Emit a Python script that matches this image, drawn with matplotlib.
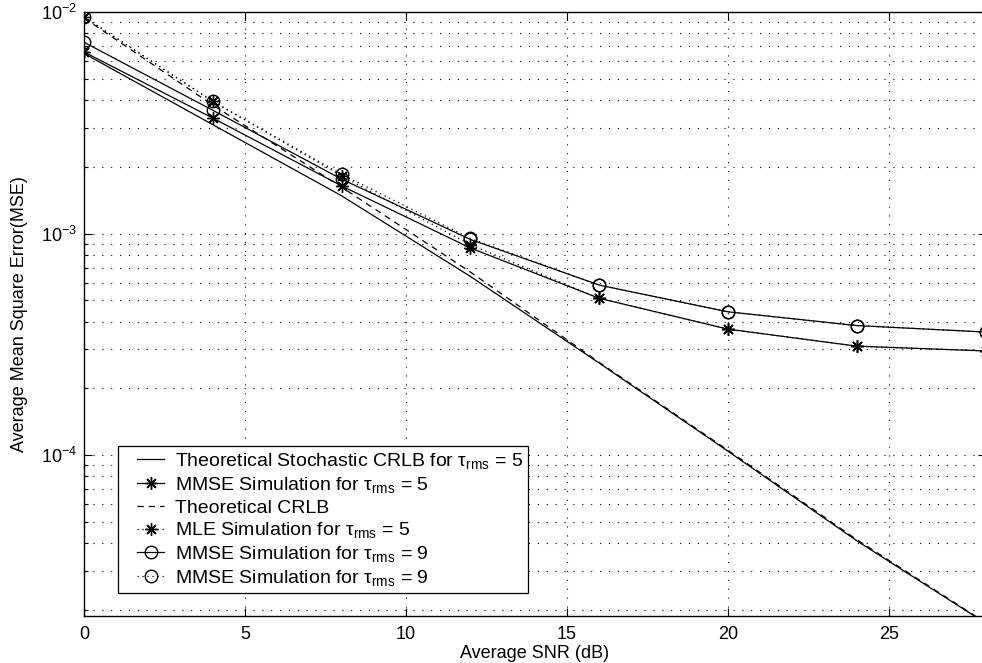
import matplotlib
matplotlib.use("Agg")
import numpy as np
import matplotlib.pyplot as plt
from matplotlib.ticker import LogLocator, NullFormatter, MultipleLocator
from matplotlib.legend_handler import HandlerLine2D

plt.rcParams['font.family'] = ['Liberation Sans', 'DejaVu Sans']
plt.rcParams['mathtext.fontset'] = 'custom'
plt.rcParams['mathtext.rm'] = 'Liberation Sans'
plt.rcParams['mathtext.it'] = 'Liberation Sans:italic'
plt.rcParams['mathtext.bf'] = 'Liberation Sans:bold'

# ---- data ----
snr_db = [0, 4, 8, 12, 16, 20, 24, 28]
stoch_crlb_tau5 = [6.5e-3, 3.1e-3, 1.48e-3, 6.4e-4, 2.6e-4, 1.04e-4, 4.1e-5, 1.74e-5]
mmse_tau5 = [6.6e-3, 3.32e-3, 1.64e-3, 8.6e-4, 5.1e-4, 3.7e-4, 3.1e-4, 2.95e-4]
theo_crlb = [9.4e-3, 3.8e-3, 1.62e-3, 6.7e-4, 2.62e-4, 1.05e-4, 4.15e-5, 1.75e-5]
mle_tau5 = [9.5e-3, 3.95e-3, 1.82e-3, 8.9e-4, 5.1e-4, 3.7e-4, 3.1e-4, 2.95e-4]
mmse_tau9 = [7.3e-3, 3.6e-3, 1.76e-3, 9.4e-4, 5.85e-4, 4.43e-4, 3.84e-4, 3.59e-4]
mmse_tau9_b = [9.5e-3, 3.95e-3, 1.85e-3, 9.5e-4, 5.85e-4, 4.43e-4, 3.84e-4, 3.59e-4]

labels = [
    r'Theoretical Stochastic CRLB for τ$_{\rm rms}$ = 5',
    r'MMSE Simulation for τ$_{\rm rms}$ = 5',
    'Theoretical CRLB',
    r'MLE Simulation for τ$_{\rm rms}$ = 5',
    r'MMSE Simulation for τ$_{\rm rms}$ = 9',
    r'MMSE Simulation for τ$_{\rm rms}$ = 9',
]


class ShortLineHandler(HandlerLine2D):
    """Legend handle with a short line segment (MATLAB style)."""
    def get_xdata(self, legend, xdescent, ydescent, width, height, fontsize):
        start = -xdescent + 0.35 * width
        end = -xdescent + width
        xdata = np.array([start, end])
        xdata_marker = np.array([(start + end) / 2.0])
        return xdata, xdata_marker


fig = plt.figure(figsize=(9.82, 6.63), dpi=100)
W, H = 982, 663
x0, x1 = 84, 84 + 28 * 32.2
y0, y1 = 12, 616
ax = fig.add_axes([x0 / W, 1 - y1 / H, (x1 - x0) / W, (y1 - y0) / H])

lw = 0.9
ast = (8, 2, 0)
ms_star = 9
ms_circ = 9
ax.semilogy(snr_db, stoch_crlb_tau5, '-', color='k', lw=lw, label=labels[0])
ax.semilogy(snr_db, mmse_tau5, '-', color='k', lw=lw, marker=ast, ms=ms_star,
            mfc='k', mec='k', mew=1.0, label=labels[1])
ax.semilogy(snr_db, theo_crlb, color='k', lw=lw, dashes=(5, 4), label=labels[2])
ax.semilogy(snr_db, mle_tau5, color='k', lw=lw, linestyle=(0, (1, 3)), marker=ast,
            ms=ms_star, mfc='k', mec='k', mew=1.0, label=labels[3])
ax.semilogy(snr_db, mmse_tau9, '-', color='k', lw=lw, marker='o', ms=ms_circ,
            mfc='none', mec='k', mew=1.0, label=labels[4])
ax.semilogy(snr_db, mmse_tau9_b, color='k', lw=lw, linestyle=(0, (1, 3)), marker='o',
            ms=ms_circ, mfc='none', mec='k', mew=1.0, label=labels[5])

ax.set_xlim(0, 28)
ax.set_ylim(10 ** (-2 - (y1 - y0) / 221.5), 1e-2)
ax.xaxis.set_major_locator(MultipleLocator(5))
ax.yaxis.set_major_locator(LogLocator(base=10, numticks=10))
ax.yaxis.set_minor_locator(LogLocator(base=10, subs=range(2, 10), numticks=20))
ax.yaxis.set_minor_formatter(NullFormatter())

grid_style = dict(color='k', linestyle=(0, (1, 7)), linewidth=0.8)
ax.grid(True, which='major', **grid_style)
ax.grid(True, which='minor', axis='y', **grid_style)

ax.tick_params(which='both', direction='in', top=True, right=True, labelsize=13,
               width=0.8, color='k')
ax.tick_params(axis='x', which='major', pad=7)
ax.tick_params(axis='y', which='major', pad=5)
ax.tick_params(which='major', length=6)
ax.tick_params(which='minor', length=3)
for s in ax.spines.values():
    s.set_linewidth(1.0)

ax.set_xlabel('Average SNR (dB)', fontsize=13, labelpad=2)
ax.set_ylabel('Average Mean Square Error(MSE)', fontsize=13, labelpad=9)

leg = ax.legend(loc='lower left', bbox_to_anchor=(0.038, 0.038), fontsize=14,
                frameon=True, fancybox=False, edgecolor='k', framealpha=1,
                handlelength=2.1, handletextpad=0.55, labelspacing=0.2,
                borderpad=0.25, borderaxespad=0,
                handler_map={plt.Line2D: ShortLineHandler()})
leg.get_frame().set_linewidth(0.9)

fig.savefig('out.png', dpi=100)
